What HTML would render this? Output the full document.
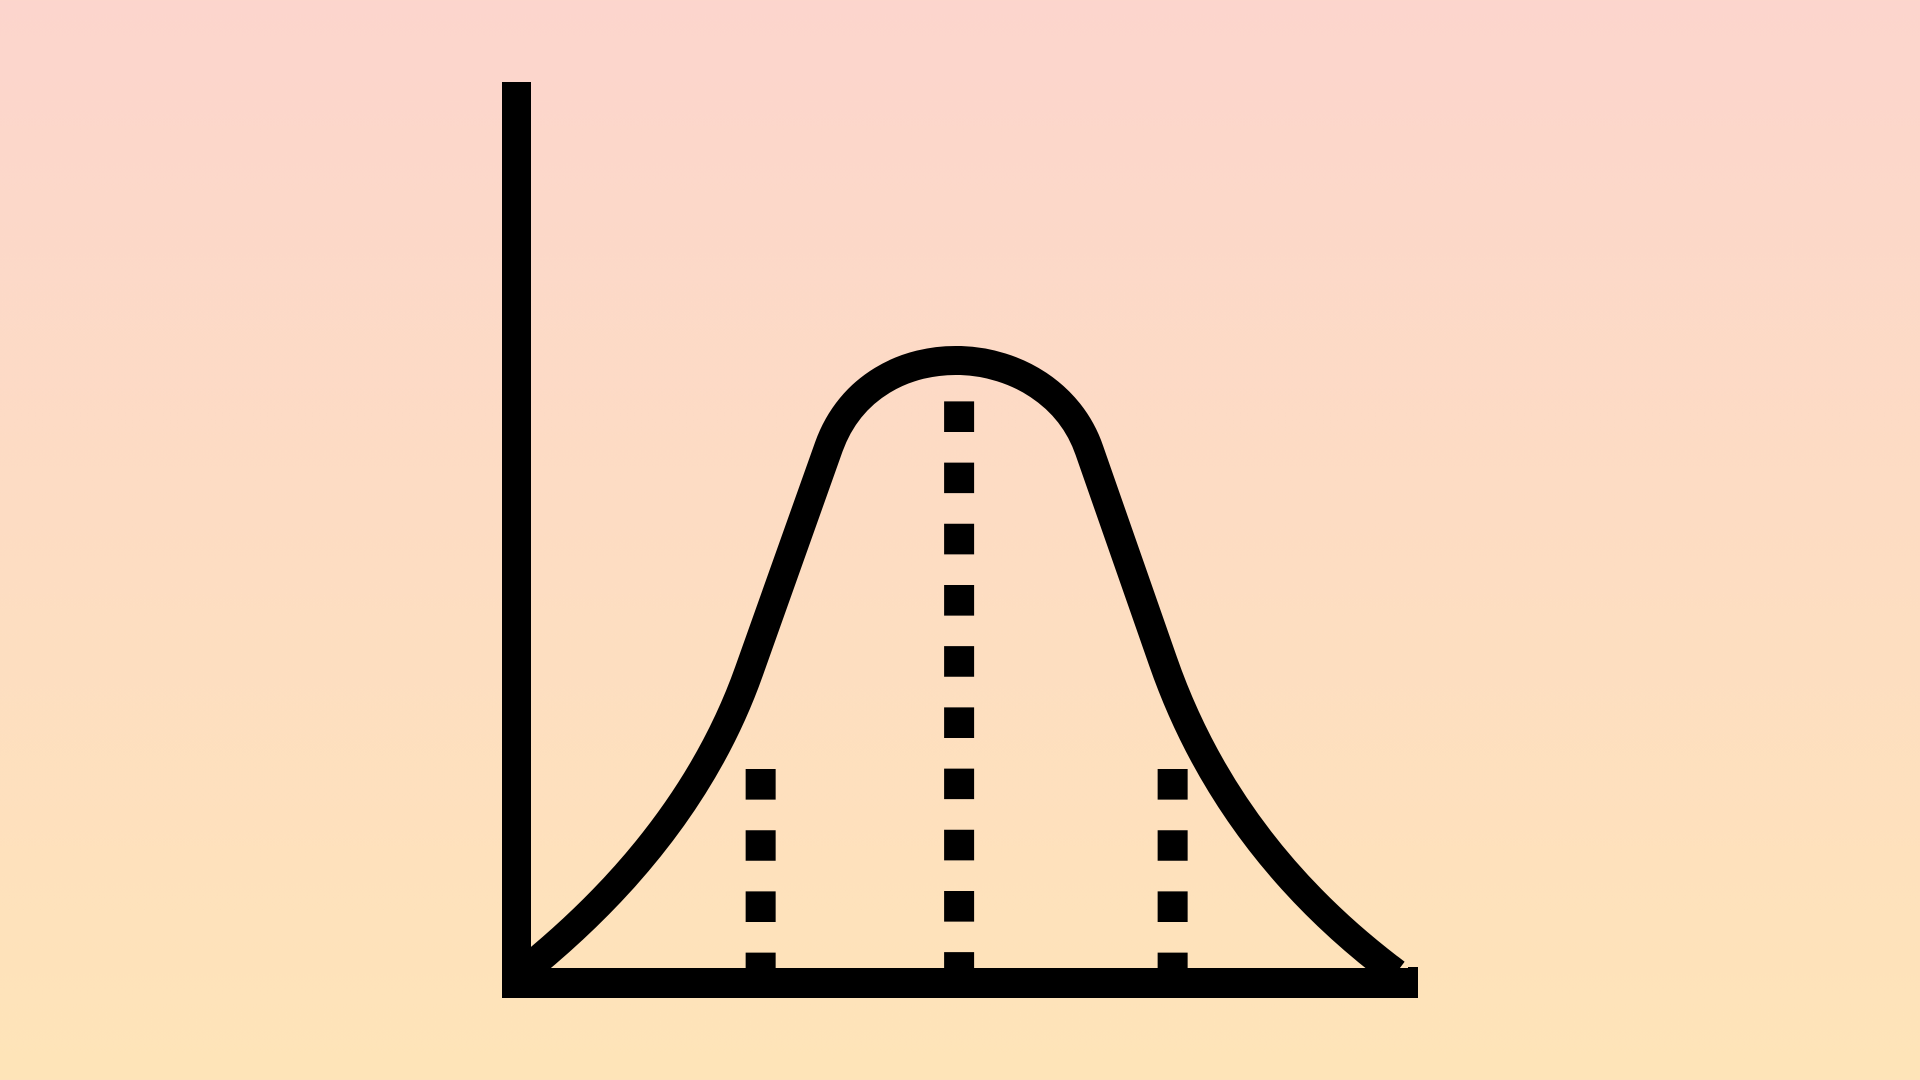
<!DOCTYPE html>
<html><head><meta charset="utf-8"><style>
html,body{margin:0;padding:0;width:1920px;height:1080px;overflow:hidden}
body{background:linear-gradient(to bottom,#fcd5cd 0%,#fee4b8 100%);font-family:"Liberation Sans",sans-serif}
</style></head><body>
<svg id="chart" width="1920" height="1080" xmlns="http://www.w3.org/2000/svg"></svg>
<script>
// curve nodes: start, control, anchor, anchor, control, control, anchor, anchor, control, end
const curveX = [0,1.94,2.62,3.52,4.01,6.02,6.46,7.29,8.02,9.92];
const curveY = [0.008,0.227,0.501,0.862,1.057,1.039,0.856,0.517,0.217,0.014];
const curveCmd = ['M','Q','','L','C','','','L','Q',''];
const markerX = [2.75,4.99,7.40];
const markerY = [0.343,0.935,0.343];

const X0=517,X1=1403,Y0=982,Y1=361;
function xs(v){return X0+(X1-X0)*v/10;}
function ys(v){return Y0-(Y0-Y1)*v;}
const svg=document.getElementById('chart');
const NS='http://www.w3.org/2000/svg';

const g=document.createElementNS(NS,'g');


svg.appendChild(g);
markerX.forEach((mx,i)=>{
  const l=document.createElementNS(NS,'line');
  
  
  l.setAttribute('x1',xs(mx));l.setAttribute('x2',xs(mx));
  l.setAttribute('y1',ys(markerY[i]));l.setAttribute('y2',ys(0));
  l.setAttribute('stroke','#000');l.setAttribute('stroke-width','30');
  l.setAttribute('stroke-dasharray','30.6 30.6');
  g.appendChild(l);
});

let d='';
curveX.forEach((x,i)=>{ d+=(curveCmd[i]?' '+curveCmd[i]:' ')+xs(x)+','+ys(curveY[i]); });
const p=document.createElementNS(NS,'path');


p.setAttribute('d',d.trim());
p.setAttribute('fill','none');p.setAttribute('stroke','#000');
p.setAttribute('stroke-width','29');p.setAttribute('stroke-linejoin','round');
svg.appendChild(p);

const ya=document.createElementNS(NS,'rect');


ya.setAttribute('x',502);ya.setAttribute('y',82);ya.setAttribute('width',29);ya.setAttribute('height',916);
ya.setAttribute('fill','#000');
svg.appendChild(ya);
const xa=document.createElementNS(NS,'rect');


xa.setAttribute('x',502);xa.setAttribute('y',968);xa.setAttribute('width',916);xa.setAttribute('height',30);
xa.setAttribute('rx',4);
xa.setAttribute('fill','#000');
svg.appendChild(xa);
const cap=document.createElementNS(NS,'rect');


cap.setAttribute('x',1408);cap.setAttribute('y',967);cap.setAttribute('width',10);cap.setAttribute('height',31);
cap.setAttribute('fill','#000');
svg.appendChild(cap);
</script>
</body></html>
